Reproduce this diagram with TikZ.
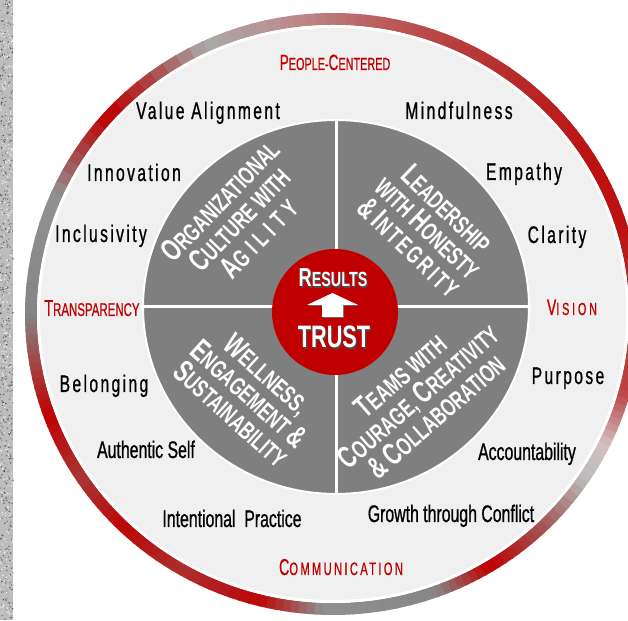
\documentclass[tikz,border=0pt]{standalone}
\usepackage{fontspec}
\setmainfont{Liberation Sans}
\newfontfamily\lab[FakeStretch=0.66,FakeBold=0.8]{Liberation Sans}
\newfontfamily\labsp[FakeStretch=0.65,LetterSpace=10,FakeBold=0.8]{Liberation Sans}
\newfontfamily\rlab[FakeStretch=0.62,FakeBold=0.6]{Liberation Sans}
\newfontfamily\qf[FakeStretch=0.68]{Liberation Sans}
\newfontfamily\cf[FakeStretch=0.7]{Liberation Sans}
\definecolor{ringred}{HTML}{C00000}
\definecolor{ringgray}{HTML}{858585}
\definecolor{lightfill}{HTML}{F0F0F0}
\definecolor{quadgray}{HTML}{7F7F7F}
\definecolor{stripegray}{HTML}{BDBDBD}
\def\bgsz{31}
\newcommand\Bg[1]{{\fontsize{\bgsz}{10}\selectfont #1}}
\tikzset{
  lbl/.style={font=\labsp\fontsize{24}{26}\selectfont, text=black, inner sep=0pt, anchor=base},
  lbltight/.style={font=\lab\fontsize{24}{26}\selectfont, text=black, inner sep=0pt, anchor=base},
  redlbl/.style={text=ringred, inner sep=0pt, anchor=base},
  qtext/.style={font=\qf\bfseries\fontsize{25}{27}\selectfont, text=white, align=center, inner sep=0pt},
  ctext/.style={inner sep=0pt, anchor=base},
}
\begin{document}
\begin{tikzpicture}[x=1pt,y=1pt]
\useasboundingbox (0,0) rectangle (628,620);
\clip (0,0) rectangle (628,620);
\fill[white] (0,0) rectangle (628,620);
% textured stripe
\fill[stripegray] (0,0) rectangle (13,620);
\pgfmathsetseed{7}
\foreach \i in {1,...,600}{
  \pgfmathsetmacro\xx{rnd*13}
  \pgfmathsetmacro\yy{rnd*620}
  \pgfmathsetmacro\cc{int(25+rnd*50)}
  \fill[black!\cc] (\xx,\yy) circle (0.8pt);
}
\foreach \i in {1,...,300}{
  \pgfmathsetmacro\xx{rnd*13}
  \pgfmathsetmacro\yy{rnd*620}
  \fill[white!85!gray] (\xx,\yy) circle (0.8pt);
}
% outer ring
\foreach \a/\b/\ra/\rb/\ga/\gb in {
 0/17/70/90/70/80, 17/30/90/90/80/80, 30/45/90/80/80/80, 45/65/80/65/80/70,
 65/80/65/50/70/60, 80/95/50/30/60/55, 95/115/30/0/55/70, 115/138/0/100/70/100,
 138/156/100/0/100/90, 156/180/0/0/90/100, 180/188/0/40/100/100, 188/200/40/100/100/100,
 200/214/100/60/100/100, 214/226/60/95/100/100, 226/240/95/65/100/100, 240/256/65/95/100/100,
 256/268/95/0/100/90, 268/290/0/0/90/100, 290/301/0/100/100/100, 301/313/100/45/100/90,
 313/326/45/0/90/55, 326/334/0/10/55/35, 334/345/10/65/35/55, 345/360/65/70/55/70}{
  \foreach \k in {0,...,7}{
    \pgfmathsetmacro\sa{\a+(\b-\a)*\k/8}
    \pgfmathsetmacro\ea{\a+(\b-\a)*(\k+1)/8+0.4}
    \pgfmathsetmacro\mr{\ra+(\rb-\ra)*(\k+0.5)/8}
    \pgfmathsetmacro\mg{\ga+(\gb-\ga)*(\k+0.5)/8}
    \colorlet{segg}{ringgray!\mg!white}
    \draw[line width=12pt, draw=ringred!\mr!segg] ([shift={(333,306)}]\sa:302pt and 295pt)
      arc[start angle=\sa, end angle=\ea, x radius=302pt, y radius=295pt];
  }
}
\fill[white] (333,306) ellipse [x radius=296pt, y radius=289pt];
\fill[lightfill] (333,306) ellipse [x radius=293pt, y radius=286pt];
% inner quadrants
\fill[quadgray, draw=white, line width=2pt] (336,313) ellipse [x radius=193pt, y radius=187pt];
\draw[white, line width=3pt] (336,125) -- (336,501);
\draw[white, line width=3pt] (141,313) -- (531,313);
% core
\node[circle, fill=ringred, minimum size=126pt, inner sep=0pt] (core) at (335,308) {};
% quadrant texts
\node[qtext, rotate=46] (q1) at (239,401) {\Bg{O}RGANIZATIONAL\\ \Bg{C}ULTURE WITH\\ {\addfontfeature{LetterSpace=22}\Bg{A}GILITY}};
\node[qtext, rotate=-44] (q2) at (428,392) {\Bg{L}EADERSHIP\\ WITH \Bg{H}ONESTY\\ \Bg{\&} {\addfontfeature{LetterSpace=10}\Bg{I}NTEGRITY}};
\node[qtext, rotate=-42] (q3) at (249,226) {\Bg{W}ELLNESS,\\ \Bg{E}NGAGEMENT \Bg{\&}\\ \Bg{S}USTAINABILITY};
\node[qtext, rotate=41] (q4) at (418,224) {\Bg{T}EAMS WITH\\ \Bg{C}OURAGE, \Bg{C}REATIVITY\\ \Bg{\&} \Bg{C}OLLABORATION};
% center text
\node[ctext, text=black!70, font=\cf\bfseries\fontsize{20.5}{20}\selectfont] (ress) at (334.2,331.8) {\def\bgsz{26}\Bg{R}ESULTS};
\node[ctext, text=white, font=\cf\bfseries\fontsize{20.5}{20}\selectfont] (res) at (333,333) {\def\bgsz{26}\Bg{R}ESULTS};
\fill[black!60] (323,302) -- (344,302) -- (344,314) -- (359,314) -- (333.5,326) -- (308,314) -- (323,314) -- cycle;
\fill[white] (322,303) -- (343,303) -- (343,315) -- (358,315) -- (332.5,327) -- (307,315) -- (322,315) -- cycle;
\node[ctext, text=black!70, font=\cf\bfseries\fontsize{31}{31}\selectfont] (trs) at (335.2,270.8) {TRUST};
\node[ctext, text=white, font=\cf\bfseries\fontsize{31}{31}\selectfont] (tr) at (334,272) {TRUST};
% red labels
\node[redlbl, font=\rlab\fontsize{17.5}{20}\selectfont] (pc) at (335,550) {\def\bgsz{22}\Bg{P}EOPLE-\Bg{C}ENTERED};
\node[redlbl, font=\rlab\fontsize{18.5}{20}\selectfont] (tp) at (92,304) {\def\bgsz{23}\Bg{T}RANSPARENCY};
\node[redlbl, font=\rlab\fontsize{17.5}{20}\selectfont\addfontfeature{LetterSpace=16}] (vi) at (572,305) {\def\bgsz{22.5}\Bg{V}ISION};
\node[redlbl, font=\rlab\fontsize{18}{20}\selectfont\addfontfeature{LetterSpace=13}] (co) at (341,45) {\def\bgsz{23}\Bg{C}OMMUNICATION};
% black labels
\node[lbl] (va) at (208,501) {Value Alignment};
\node[lbl] (mi) at (459,501) {Mindfulness};
\node[lbl] (in) at (134,439) {Innovation};
\node[lbl] (em) at (524,440) {Empathy};
\node[lbl] (ic) at (101,378) {Inclusivity};
\node[lbl] (cl) at (557,377) {Clarity};
\node[lbl] (be) at (104,228) {Belonging};
\node[lbl] (pu) at (568,236) {Purpose};
\node[lbltight] (au) at (146,162) {Authentic Self};
\node[lbltight] (ac) at (527,160) {Accountability};
\node[lbltight] (ip) at (232,93) {Intentional~ Practice};
\node[lbltight] (gc) at (451,98) {Growth through Conflict};
\end{tikzpicture}
\end{document}
